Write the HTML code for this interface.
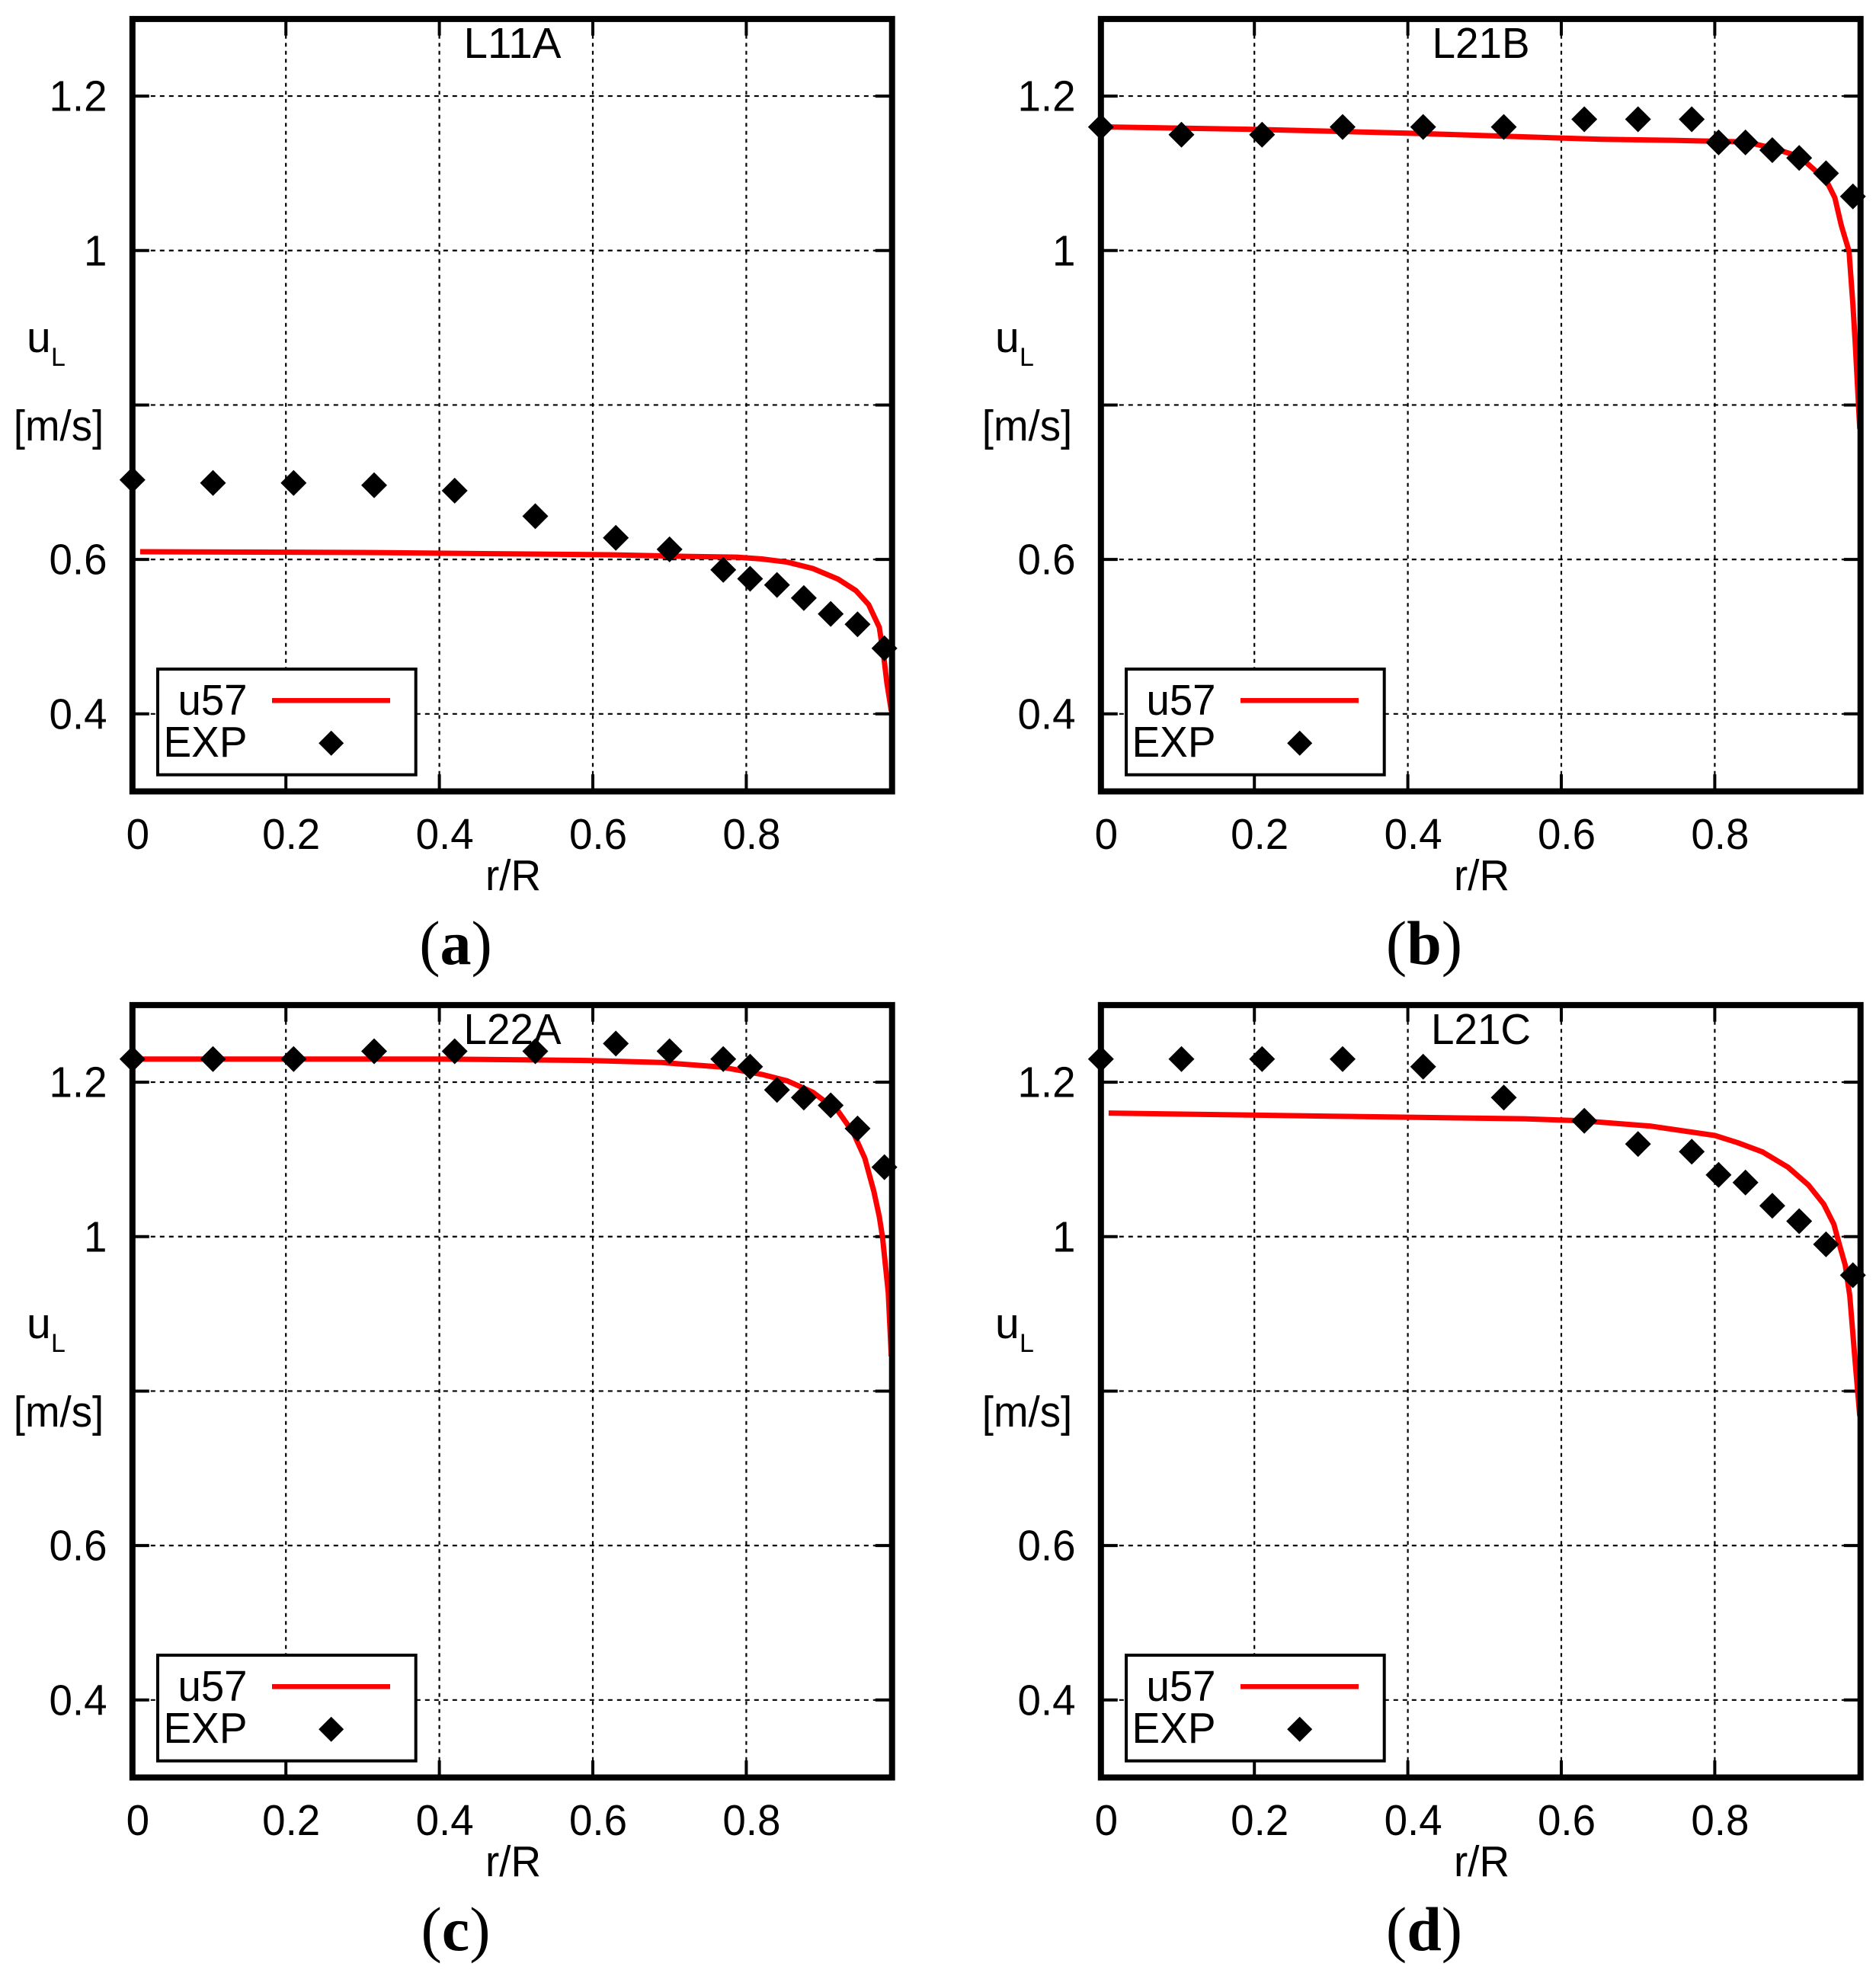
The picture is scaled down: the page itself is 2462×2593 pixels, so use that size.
<!DOCTYPE html>
<html lang="en">
<head>
<meta charset="utf-8">
<title>Velocity profiles u57 vs EXP</title>
<style>
html,body{margin:0;padding:0;background:#fff;}
svg{display:block;}
text{font-family:"Liberation Sans",sans-serif;font-size:57px;fill:#000;}
.cap{font-family:"Liberation Serif",serif;font-size:82px;}
</style>
</head>
<body>
<svg id="figure" xmlns="http://www.w3.org/2000/svg" width="2462" height="2593" viewBox="0 0 2462 2593">
<rect x="0" y="0" width="2462" height="2593" fill="#fff"/>

<g id="panel-a" transform="translate(0,0)">
  <g class="under"></g>
  <rect x="173.8" y="24.9" width="996.9" height="1013.6" fill="none" stroke="#000" stroke-width="8"/>
  <text x="672.5" y="76" text-anchor="middle" textLength="128" lengthAdjust="spacingAndGlyphs">L11A</text>
  <text x="35" y="462">u</text>
  <text x="67" y="480" style="font-size:34px">L</text>
  <text x="77" y="578" text-anchor="middle" textLength="118.5" lengthAdjust="spacingAndGlyphs">[m/s]</text>
  <text x="673.5" y="1168" text-anchor="middle" textLength="73" lengthAdjust="spacingAndGlyphs">r/R</text>
  <g>
    <rect x="207" y="878" width="338.7" height="138.7" fill="#fff" stroke="#000" stroke-width="4"/>
    <text x="324.5" y="938" text-anchor="end" textLength="91" lengthAdjust="spacingAndGlyphs">u57</text>
    <line x1="357" y1="919.3" x2="512" y2="919.3" stroke="#f00" stroke-width="6.5"/>
    <text x="324.5" y="993" text-anchor="end" textLength="110" lengthAdjust="spacingAndGlyphs">EXP</text>
    <polygon points="434.7,958.8 451.2,975.3 434.7,991.8 418.2,975.3" fill="#000"/>
  </g>
  <g class="over"></g>
  <text class="cap" x="598" y="1265" text-anchor="middle">(<tspan font-weight="bold">a</tspan>)</text>
</g>

<g id="panel-b" transform="translate(1271,0)">
  <g class="under"></g>
  <rect x="173.8" y="24.9" width="996.9" height="1013.6" fill="none" stroke="#000" stroke-width="8"/>
  <text x="672.5" y="76" text-anchor="middle" textLength="128" lengthAdjust="spacingAndGlyphs">L21B</text>
  <text x="35" y="462">u</text>
  <text x="67" y="480" style="font-size:34px">L</text>
  <text x="77" y="578" text-anchor="middle" textLength="118.5" lengthAdjust="spacingAndGlyphs">[m/s]</text>
  <text x="673.5" y="1168" text-anchor="middle" textLength="73" lengthAdjust="spacingAndGlyphs">r/R</text>
  <g>
    <rect x="207" y="878" width="338.7" height="138.7" fill="#fff" stroke="#000" stroke-width="4"/>
    <text x="324.5" y="938" text-anchor="end" textLength="91" lengthAdjust="spacingAndGlyphs">u57</text>
    <line x1="357" y1="919.3" x2="512" y2="919.3" stroke="#f00" stroke-width="6.5"/>
    <text x="324.5" y="993" text-anchor="end" textLength="110" lengthAdjust="spacingAndGlyphs">EXP</text>
    <polygon points="434.7,958.8 451.2,975.3 434.7,991.8 418.2,975.3" fill="#000"/>
  </g>
  <g class="over"></g>
  <text class="cap" x="598" y="1265" text-anchor="middle">(<tspan font-weight="bold">b</tspan>)</text>
</g>

<g id="panel-c" transform="translate(0,1294)">
  <g class="under"></g>
  <rect x="173.8" y="24.9" width="996.9" height="1013.6" fill="none" stroke="#000" stroke-width="8"/>
  <text x="672.5" y="76" text-anchor="middle" textLength="128" lengthAdjust="spacingAndGlyphs">L22A</text>
  <text x="35" y="462">u</text>
  <text x="67" y="480" style="font-size:34px">L</text>
  <text x="77" y="578" text-anchor="middle" textLength="118.5" lengthAdjust="spacingAndGlyphs">[m/s]</text>
  <text x="673.5" y="1168" text-anchor="middle" textLength="73" lengthAdjust="spacingAndGlyphs">r/R</text>
  <g>
    <rect x="207" y="878" width="338.7" height="138.7" fill="#fff" stroke="#000" stroke-width="4"/>
    <text x="324.5" y="938" text-anchor="end" textLength="91" lengthAdjust="spacingAndGlyphs">u57</text>
    <line x1="357" y1="919.3" x2="512" y2="919.3" stroke="#f00" stroke-width="6.5"/>
    <text x="324.5" y="993" text-anchor="end" textLength="110" lengthAdjust="spacingAndGlyphs">EXP</text>
    <polygon points="434.7,958.8 451.2,975.3 434.7,991.8 418.2,975.3" fill="#000"/>
  </g>
  <g class="over"></g>
  <text class="cap" x="598" y="1265" text-anchor="middle">(<tspan font-weight="bold">c</tspan>)</text>
</g>

<g id="panel-d" transform="translate(1271,1294)">
  <g class="under"></g>
  <rect x="173.8" y="24.9" width="996.9" height="1013.6" fill="none" stroke="#000" stroke-width="8"/>
  <text x="672.5" y="76" text-anchor="middle" textLength="131" lengthAdjust="spacingAndGlyphs">L21C</text>
  <text x="35" y="462">u</text>
  <text x="67" y="480" style="font-size:34px">L</text>
  <text x="77" y="578" text-anchor="middle" textLength="118.5" lengthAdjust="spacingAndGlyphs">[m/s]</text>
  <text x="673.5" y="1168" text-anchor="middle" textLength="73" lengthAdjust="spacingAndGlyphs">r/R</text>
  <g>
    <rect x="207" y="878" width="338.7" height="138.7" fill="#fff" stroke="#000" stroke-width="4"/>
    <text x="324.5" y="938" text-anchor="end" textLength="91" lengthAdjust="spacingAndGlyphs">u57</text>
    <line x1="357" y1="919.3" x2="512" y2="919.3" stroke="#f00" stroke-width="6.5"/>
    <text x="324.5" y="993" text-anchor="end" textLength="110" lengthAdjust="spacingAndGlyphs">EXP</text>
    <polygon points="434.7,958.8 451.2,975.3 434.7,991.8 418.2,975.3" fill="#000"/>
  </g>
  <g class="over"></g>
  <text class="cap" x="598" y="1265" text-anchor="middle">(<tspan font-weight="bold">d</tspan>)</text>
</g>
</svg>

<script>
// ---- chart data ----
var xTicks = [0, 0.2, 0.4, 0.6, 0.8];
var xTickLabels = ['0', '0.2', '0.4', '0.6', '0.8'];
var yTicks = [0.4, 0.6, 0.8, 1, 1.2];
var yTickLabels = ['0.4', '0.6', '', '1', '1.2'];
var expR = [0, 0.105, 0.21, 0.315, 0.42, 0.525, 0.63, 0.7, 0.77, 0.805, 0.84, 0.875, 0.91, 0.945, 0.98];

var expA = [0.703, 0.699, 0.699, 0.696, 0.689, 0.656, 0.628, 0.613, 0.5865, 0.575, 0.567, 0.55, 0.5295, 0.516, 0.485];
var expB = [1.16, 1.15, 1.15, 1.16, 1.16, 1.16, 1.17, 1.17, 1.17, 1.14, 1.14, 1.13, 1.12, 1.1, 1.07];
var expC = [1.23, 1.23, 1.23, 1.24, 1.24, 1.24, 1.25, 1.24, 1.23, 1.22, 1.19, 1.18, 1.17, 1.14, 1.09];
var expD = [1.23, 1.23, 1.23, 1.23, 1.22, 1.18, 1.15, 1.12, 1.11, 1.08, 1.07, 1.04, 1.02, 0.99, 0.95];

var curveRA = [0.01, 0.3, 0.622, 0.7215, 0.7878, 0.8204, 0.8536, 0.8867, 0.9198, 0.9429, 0.9594, 0.9734, 0.9793, 0.9833, 0.989];
var curveUA = [0.61, 0.609, 0.606, 0.604, 0.603, 0.6006, 0.5965, 0.5883, 0.5745, 0.5597, 0.5416, 0.512, 0.4725, 0.4396, 0.404];

var curveRB = [0.01, 0.2, 0.4, 0.652, 0.7445, 0.806, 0.8405, 0.876, 0.9104, 0.945, 0.9565, 0.965, 0.975, 0.98, 0.983, 0.989];
var curveUB = [1.16, 1.157, 1.152, 1.144, 1.1427, 1.1414, 1.1407, 1.1325, 1.1216, 1.0913, 1.0683, 1.032, 0.9992, 0.93, 0.881, 0.769];

var curveRC = [0.01, 0.4, 0.6, 0.69, 0.768, 0.8204, 0.8536, 0.8867, 0.9198, 0.9396, 0.9545, 0.9662, 0.9734, 0.9775, 0.985, 0.989];
var curveUC = [1.23, 1.23, 1.228, 1.2254, 1.2195, 1.21, 1.2017, 1.187, 1.1623, 1.1343, 1.1014, 1.0587, 1.0257, 1.0, 0.928, 0.845];

var curveRD = [0.01, 0.3, 0.5517, 0.6277, 0.717, 0.8, 0.8294, 0.8625, 0.8956, 0.922, 0.9419, 0.9552, 0.9634, 0.97, 0.976, 0.983, 0.989];
var curveUD = [1.16, 1.156, 1.1526, 1.15, 1.143, 1.131, 1.1218, 1.1096, 1.0898, 1.0669, 1.0422, 1.0159, 0.9863, 0.9633, 0.9233, 0.8373, 0.7676];

// ---- axis functions (local panel coordinates) ----
function sx(v) { return 173.8 + v * 1007; }
function sy(v) { return 936.8 - (v - 0.4) * 1013.4; }

var NS = 'http://www.w3.org/2000/svg';
function make(parent, tag, attrs) {
  var el = document.createElementNS(NS, tag);
  for (var k in attrs) { el.setAttribute(k, attrs[k]); }
  parent.appendChild(el);
  return el;
}

function drawPanel(id, exp, curveR, curveU) {
  var root = document.getElementById('panel-' + id);
  var under = root.querySelector('.under');
  var over = root.querySelector('.over');
  var left = sx(0), right = sx(0.99), top = sy(1.3), bottom = sy(0.3);

  xTicks.forEach(function (t, i) {
    var x = sx(t), el;
    if (t > 0) {
      el = make(under, 'line', {x1: x, y1: top, x2: x, y2: bottom, stroke: '#000', 'stroke-width': 2.2, 'stroke-dasharray': '5 5.5'});
      
      
    }
    el = make(under, 'line', {x1: x, y1: bottom, x2: x, y2: bottom - 22, stroke: '#000', 'stroke-width': 4});
    
    
    el = make(under, 'line', {x1: x, y1: top, x2: x, y2: top + 22, stroke: '#000', 'stroke-width': 4});
    
    
    el = make(root, 'text', {transform: 'translate(' + (x + 7) + ' 1114) scale(0.96 1)', 'text-anchor': 'middle'});
    el.textContent = xTickLabels[i];
    
    
  });

  yTicks.forEach(function (t, i) {
    var y = sy(t), el;
    el = make(under, 'line', {x1: left, y1: y, x2: right, y2: y, stroke: '#000', 'stroke-width': 2.2, 'stroke-dasharray': '6 6'});
    
    
    el = make(under, 'line', {x1: left, y1: y, x2: left + 22, y2: y, stroke: '#000', 'stroke-width': 4});
    
    
    el = make(under, 'line', {x1: right, y1: y, x2: right - 22, y2: y, stroke: '#000', 'stroke-width': 4});
    
    
    if (yTickLabels[i]) {
      el = make(root, 'text', {transform: 'translate(140.5 ' + (y + 19.5) + ') scale(0.96 1)', 'text-anchor': 'end'});
      el.textContent = yTickLabels[i];
      
      
    }
  });

  var pts = curveR.map(function (r, i) { return sx(r).toFixed(1) + ',' + sy(curveU[i]).toFixed(1); }).join(' ');
  var curve = make(under, 'polyline', {points: pts, fill: 'none', stroke: '#f00', 'stroke-width': 7, 'stroke-linejoin': 'round'});
  
  

  var h = 17;
  expR.forEach(function (r, i) {
    var x = sx(r), y = sy(exp[i]);
    var p = [x, y - h, x + h, y, x, y + h, x - h, y];
    var d = make(over, 'polygon', {points: p.map(function (n) { return n.toFixed(1); }).join(' '), fill: '#000'});
    
    
  });
}

drawPanel('a', expA, curveRA, curveUA);
drawPanel('b', expB, curveRB, curveUB);
drawPanel('c', expC, curveRC, curveUC);
drawPanel('d', expD, curveRD, curveUD);
</script>
</body>
</html>
